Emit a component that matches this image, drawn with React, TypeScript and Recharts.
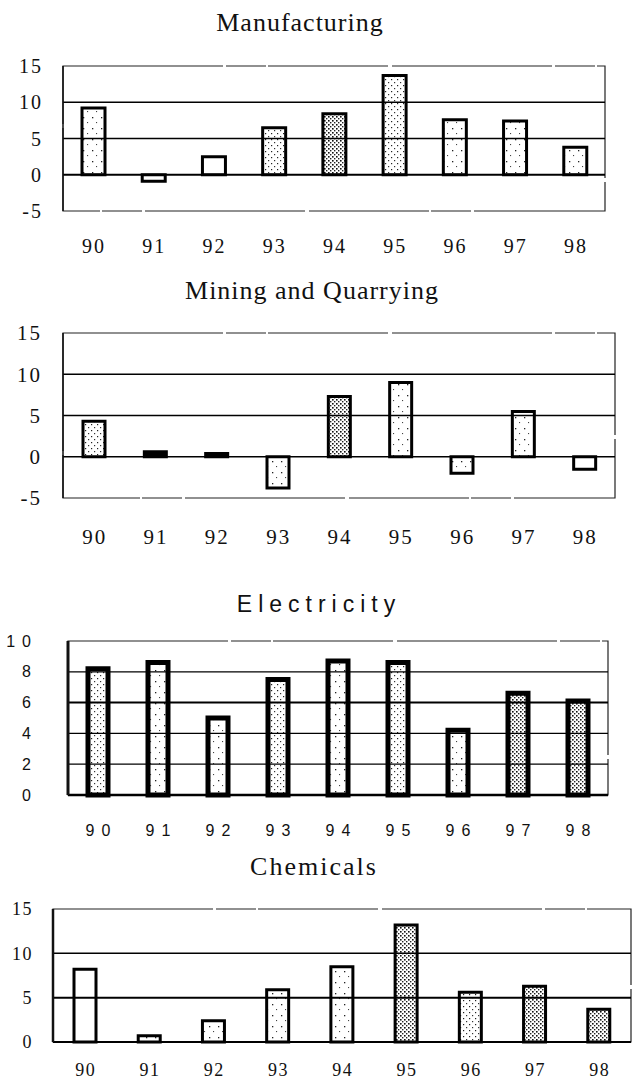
import React from 'react';
import { BarChart, Bar, Cell, XAxis, YAxis, ReferenceLine, ReferenceArea } from 'recharts';

// annual growth, 1990-1998 (%)
const years = ['90', '91', '92', '93', '94', '95', '96', '97', '98'];
const manufacturing = [9.2, -0.9, 2.5, 6.5, 8.4, 13.7, 7.6, 7.4, 3.8];
const mining = [4.3, 0.6, 0.4, -3.8, 7.3, 9.0, -2.0, 5.5, -1.5];
const electricity = [8.2, 8.6, 5.0, 7.5, 8.7, 8.6, 4.2, 6.6, 6.1];
const chemicals = [8.2, 0.7, 2.4, 5.9, 8.5, 13.2, 5.6, 6.3, 3.7];

const wideTicks = [-5, 0, 5, 10, 15];
const elecTicks = [0, 2, 4, 6, 8, 10];
const chemTicks = [0, 5, 10, 15];

// stipple density per bar (0 = white ... 4 = solid)
const mfgShade = [1, 0, 0, 2, 3, 2, 1, 1, 1];
const miningShade = [2, 4, 4, 1, 3, 1, 1, 1, 0];
const elecShade = [2, 1, 1, 2, 1, 2, 1, 3, 3];
const chemShade = [0, 1, 1, 1, 1, 3, 2, 3, 3];

const SERIF = '"Liberation Serif", "Times New Roman", serif';
const SANS = '"Liberation Sans", Arial, sans-serif';

function Patterns({ id }: { id: string }) {
  return (
    <defs>
      <pattern id={`${id}-s0`} width={6} height={6} patternUnits="userSpaceOnUse">
        <rect width={6} height={6} fill="#fff" />
      </pattern>
      <pattern id={`${id}-s1`} width={9} height={11} patternUnits="userSpaceOnUse">
        <rect width={9} height={11} fill="#fff" />
        <rect x={2} y={3} width={1.3} height={1.3} fill="#222" />
        <rect x={6} y={8} width={1.1} height={1.1} fill="#444" />
      </pattern>
      <pattern id={`${id}-s2`} width={6} height={6} patternUnits="userSpaceOnUse">
        <rect width={6} height={6} fill="#fff" />
        <rect x={1} y={1} width={1.2} height={1.2} fill="#222" />
        <rect x={4} y={4} width={1.2} height={1.2} fill="#333" />
      </pattern>
      <pattern id={`${id}-s3`} width={4} height={4} patternUnits="userSpaceOnUse">
        <rect width={4} height={4} fill="#fff" />
        <rect x={0} y={0} width={1.6} height={1.6} fill="#111" />
        <rect x={2} y={2} width={1.4} height={1.4} fill="#222" />
      </pattern>
      <pattern id={`${id}-s4`} width={4} height={4} patternUnits="userSpaceOnUse">
        <rect width={4} height={4} fill="#000" />
      </pattern>
    </defs>
  );
}

function makeTick(font: string, size: number, spacing: number, axis: 'x' | 'y') {
  return (props: any) => {
    const { x, y, payload } = props;
    return (
      <text
        x={x}
        y={y}
        dx={axis === 'x' ? spacing / 2 : 0}
        dy={size * 0.35}
        textAnchor={axis === 'x' ? 'middle' : 'end'}
        fontFamily={font}
        fontSize={size}
        fill="#111"
        style={{ letterSpacing: spacing }}
      >
        {payload.value}
      </text>
    );
  };
}

interface GridLine {
  y: number;
  w: number;
}

interface PanelProps {
  id: string;
  title: string;
  titleFont: string;
  titleSize: number;
  titleSpacing: number;
  titleX: number;
  titleBaseline: number;
  values: number[];
  shades: number[];
  ticks: number[];
  plotTop: number;
  plotBottom: number;
  left: number;
  right: number;
  xLabelY: number;
  yLabelRight: number;
  tickFont: string;
  tickSize: number;
  tickSpacing: number;
  barSize: number;
  barStroke: number;
  axisWidth: number;
  grid: GridLine[];
}

const PAD = 18;

function Panel(p: PanelProps) {
  const data = years.map((year, i) => ({ year, value: p.values[i] }));
  const domain: [number, number] = [p.ticks[0], p.ticks[p.ticks.length - 1]];
  const chartTop = p.plotTop - PAD;
  const height = p.xLabelY + 20 - chartTop;
  const plotH = p.plotBottom - p.plotTop;
  const ascent = p.titleFont === SANS ? 0.905 : 0.891;
  const descent = p.titleFont === SANS ? 0.212 : 0.216;
  const baselineOffset = (p.titleSize - p.titleSize * (ascent + descent)) / 2 + p.titleSize * ascent;

  return (
    <>
      <div
        style={{
          position: 'absolute',
          left: p.titleX - 200,
          width: 400,
          top: p.titleBaseline - baselineOffset,
          textAlign: 'center',
          fontFamily: p.titleFont,
          fontSize: p.titleSize,
          lineHeight: `${p.titleSize}px`,
          letterSpacing: p.titleSpacing,
          paddingLeft: p.titleSpacing,
          color: '#111',
          whiteSpace: 'nowrap',
        }}
      >
        {p.title}
      </div>
      <div style={{ position: 'absolute', left: 0, top: chartTop }}>
        <BarChart
          width={635}
          height={height}
          data={data}
          margin={{ top: PAD, right: 635 - p.right, bottom: 0, left: 0 }}
          barCategoryGap={0}
        >
          <Patterns id={p.id} />
          <XAxis
            dataKey="year"
            height={height - PAD - plotH}
            axisLine={false}
            tickLine={false}
            tickSize={0}
            tickMargin={p.xLabelY - p.plotBottom}
            interval={0}
            tick={makeTick(p.tickFont, p.tickSize, p.tickSpacing, 'x')}
          />
          <YAxis
            type="number"
            domain={domain}
            ticks={p.ticks}
            width={p.left}
            interval={0}
            tickLine={false}
            tickSize={0}
            tickMargin={p.left - p.yLabelRight}
            axisLine={{ stroke: '#111', strokeWidth: p.axisWidth }}
            tick={makeTick(p.tickFont, p.tickSize, p.tickSpacing, 'y')}
          />
          <ReferenceArea
            y1={domain[0]}
            y2={domain[1]}
            fill="none"
            stroke="#222"
            strokeWidth={1.2}
            strokeDasharray="160 3 40 2 120 4"
            ifOverflow="visible"
          />
          {p.grid.map((g) => (
            <ReferenceLine key={g.y} y={g.y} stroke="#000" strokeWidth={g.w} />
          ))}
          <Bar
            dataKey="value"
            barSize={p.barSize}
            stroke="#000"
            strokeWidth={p.barStroke}
            isAnimationActive={false}
          >
            {data.map((d, i) => (
              <Cell key={d.year} fill={`url(#${p.id}-s${p.shades[i]})`} />
            ))}
          </Bar>
        </BarChart>
      </div>
    </>
  );
}

export default function App() {
  return (
    <div style={{ position: 'absolute', left: 0, top: 0, width: 635, height: 1086, background: '#fff' }}>
      <Panel
        id="mfg"
        title="Manufacturing"
        titleFont={SERIF}
        titleSize={26}
        titleSpacing={1}
        titleX={299}
        titleBaseline={32}
        values={manufacturing}
        shades={mfgShade}
        ticks={wideTicks}
        plotTop={66}
        plotBottom={211}
        left={63}
        right={605}
        xLabelY={246}
        yLabelRight={43}
        tickFont={SERIF}
        tickSize={20}
        tickSpacing={2}
        barSize={23}
        barStroke={3}
        axisWidth={1.5}
        grid={[
          { y: 10, w: 1.5 },
          { y: 5, w: 1.5 },
          { y: 0, w: 2 },
        ]}
      />
      <Panel
        id="min"
        title="Mining and Quarrying"
        titleFont={SERIF}
        titleSize={26}
        titleSpacing={1}
        titleX={311}
        titleBaseline={300}
        values={mining}
        shades={miningShade}
        ticks={wideTicks}
        plotTop={333}
        plotBottom={498}
        left={63}
        right={615}
        xLabelY={537}
        yLabelRight={42}
        tickFont={SERIF}
        tickSize={21}
        tickSpacing={2}
        barSize={22}
        barStroke={3}
        axisWidth={1.5}
        grid={[
          { y: 10, w: 1.5 },
          { y: 5, w: 1.5 },
          { y: 0, w: 1.5 },
        ]}
      />
      <Panel
        id="elec"
        title="Electricity"
        titleFont={SANS}
        titleSize={23}
        titleSpacing={6}
        titleX={313}
        titleBaseline={612}
        values={electricity}
        shades={elecShade}
        ticks={elecTicks}
        plotTop={641}
        plotBottom={795}
        left={68}
        right={608}
        xLabelY={830}
        yLabelRight={38}
        tickFont={SANS}
        tickSize={16}
        tickSpacing={7}
        barSize={20}
        barStroke={5}
        axisWidth={3}
        grid={[
          { y: 8, w: 1.2 },
          { y: 6, w: 2 },
          { y: 4, w: 1.2 },
          { y: 2, w: 1.2 },
          { y: 0, w: 2.5 },
        ]}
      />
      <Panel
        id="chem"
        title="Chemicals"
        titleFont={SERIF}
        titleSize={26}
        titleSpacing={2}
        titleX={312}
        titleBaseline={876}
        values={chemicals}
        shades={chemShade}
        ticks={chemTicks}
        plotTop={909}
        plotBottom={1042}
        left={53}
        right={631}
        xLabelY={1070}
        yLabelRight={33}
        tickFont={SERIF}
        tickSize={18}
        tickSpacing={1.5}
        barSize={22}
        barStroke={3}
        axisWidth={2.5}
        grid={[
          { y: 10, w: 1.5 },
          { y: 5, w: 2 },
          { y: 0, w: 2 },
        ]}
      />
    </div>
  );
}
